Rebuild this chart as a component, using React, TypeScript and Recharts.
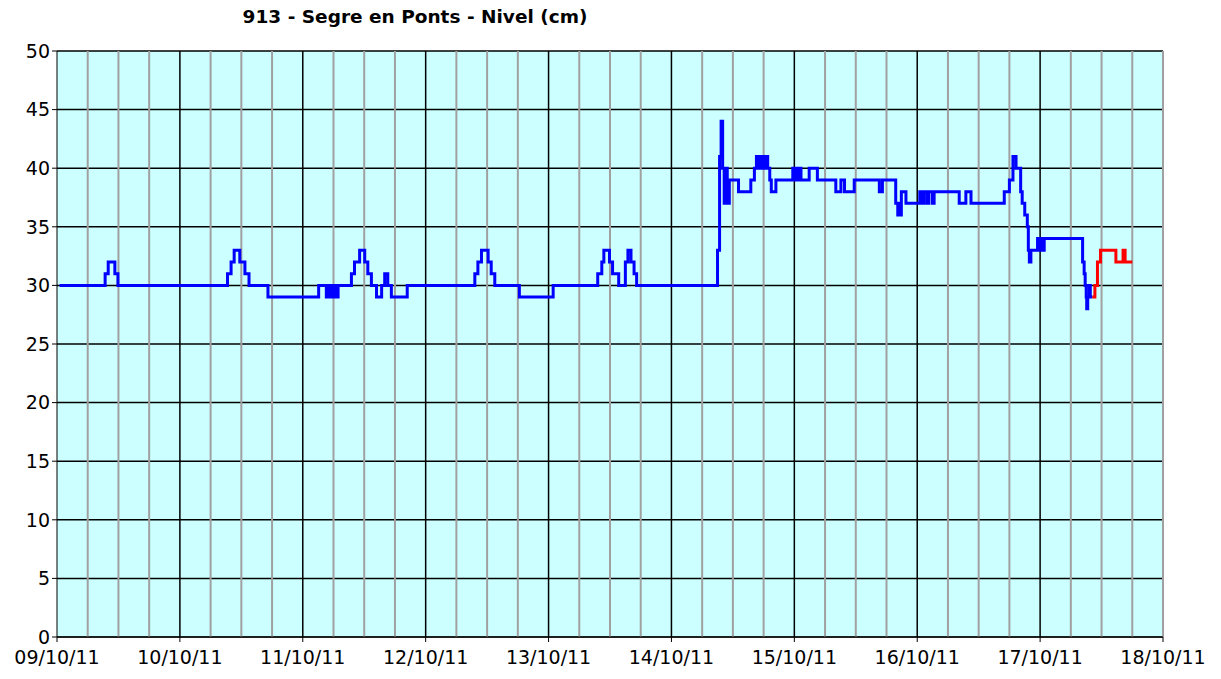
import { LineChart, Line, XAxis, YAxis, CartesianGrid, ReferenceLine } from 'recharts'

// hours since 09/10/11 00:00, level in cm
const observed: [number, number][] = [
  [0.5, 30], [9.4, 31], [10.0, 32], [11.3, 31], [11.9, 30],
  [33.3, 31], [34.0, 32], [34.6, 33], [35.7, 32], [36.7, 31], [37.5, 30],
  [41.2, 29], [51.1, 30], [52.6, 29], [52.9, 30], [53.2, 29], [53.5, 30], [53.8, 29], [54.1, 30], [54.4, 29], [54.9, 30],
  [57.5, 31], [58.1, 32], [59.1, 33], [60.1, 32], [60.7, 31], [61.4, 30], [62.4, 29], [63.4, 30], [64.0, 31], [64.6, 30], [65.3, 29], [68.4, 30],
  [81.6, 31], [82.2, 32], [82.9, 33], [84.2, 32], [84.8, 31], [85.5, 30],
  [90.3, 29], [96.9, 30],
  [105.6, 31], [106.4, 32], [106.8, 33], [107.9, 32], [108.5, 31], [109.7, 30], [111.0, 32], [111.5, 33], [112.1, 32], [112.7, 31], [113.2, 30],
  [129.0, 33], [129.4, 41], [129.7, 44], [130.0, 40], [130.3, 37], [130.6, 40], [130.9, 37], [131.3, 39], [133.1, 38],
  [135.5, 39], [136.2, 40], [136.6, 41], [137.1, 40], [137.5, 41], [137.9, 40], [138.4, 41], [138.8, 40], [139.2, 39], [139.5, 38],
  [140.4, 39], [143.7, 40], [144.0, 39], [144.3, 40], [144.6, 39], [144.9, 40], [145.3, 39], [146.9, 40], [148.5, 39],
  [152.1, 38], [153.1, 39], [153.8, 38], [155.7, 39], [160.6, 38], [161.2, 39],
  [163.8, 37], [164.2, 36], [164.5, 37], [164.7, 36], [164.9, 38], [165.8, 37],
  [168.5, 38], [169.0, 37], [169.3, 38], [169.9, 37], [170.2, 38], [170.9, 37], [171.3, 38],
  [176.2, 37], [177.5, 38], [178.5, 37], [185.0, 38], [186.0, 39], [186.7, 41], [187.3, 40],
  [188.2, 38], [188.5, 37], [189.0, 36], [189.5, 35], [189.7, 33], [189.9, 32], [190.2, 33],
  [191.5, 34], [191.8, 33], [192.1, 34], [192.4, 33], [192.8, 34],
  [200.3, 32], [200.6, 31], [200.8, 30], [201.0, 29], [201.1, 28], [201.3, 29], [201.6, 30], [201.8, 29], [202.2, 29],
]

const provisional: [number, number][] = [
  [202.2, 29], [202.7, 30], [203.2, 32], [203.8, 33], [206.8, 32], [208.2, 33], [208.6, 32], [210.0, 32],
]

const DAY_LABELS = ['09/10/11', '10/10/11', '11/10/11', '12/10/11', '13/10/11', '14/10/11', '15/10/11', '16/10/11', '17/10/11', '18/10/11']
const DAY_TICKS = DAY_LABELS.map((_, i) => i * 24)
const LEVEL_TICKS = [0, 5, 10, 15, 20, 25, 30, 35, 40, 45, 50]
const MINOR_TICKS = Array.from({ length: 36 }, (_, i) => (i + 1) * 6).filter(h => h % 24 !== 0 || h === 216)
const MAJOR_TICKS = DAY_TICKS.filter(h => h > 0 && h < 216)

const FONT = '"DejaVu Sans", Verdana, sans-serif'

const toRows = (pts: [number, number][]) => pts.map(([h, v]) => ({ h, v }))

export default function App() {
  return (
    <div style={{ position: 'relative', width: 1221, height: 679, background: '#fff' }}>
      <style>{'body{margin:0}'}</style>
      <div style={{
        position: 'absolute', top: 6, left: 0, width: 830, textAlign: 'center',
        fontFamily: FONT, fontWeight: 'bold', fontSize: 18.5, color: '#000'
      }}>
        913 - Segre en Ponts - Nivel (cm)
      </div>
      <LineChart width={1221} height={679} margin={{ top: 51, right: 58, bottom: 0, left: 0 }}>
        <CartesianGrid vertical={false} stroke="#000" strokeWidth={1.5} fill="#CCFFFF" fillOpacity={1} />
        {MINOR_TICKS.map(h => (
          <ReferenceLine key={'m' + h} x={h} stroke="#A0A0A0" strokeWidth={2} />
        ))}
        {MAJOR_TICKS.map(h => (
          <ReferenceLine key={'d' + h} x={h} stroke="#000" strokeWidth={1.5} />
        ))}
        <XAxis
          type="number" dataKey="h" domain={[0, 216]} ticks={DAY_TICKS} allowDataOverflow
          tickFormatter={(h: number) => DAY_LABELS[Math.round(h / 24)]}
          height={42} tickSize={5} tickMargin={9}
          stroke="#000" tick={{ fill: '#000', fontSize: 19, fontFamily: FONT }}
        />
        <YAxis
          type="number" domain={[0, 50]} ticks={LEVEL_TICKS} width={57} tickSize={5} tickMargin={2}
          stroke="#000" tick={{ fill: '#000', fontSize: 19, fontFamily: FONT }}
        />
        <Line data={toRows(observed)} dataKey="v" type="stepAfter" stroke="#0000FF" strokeWidth={3} dot={false} isAnimationActive={false} />
        <Line data={toRows(provisional)} dataKey="v" type="stepAfter" stroke="#FF0000" strokeWidth={3} dot={false} isAnimationActive={false} />
      </LineChart>
    </div>
  )
}
